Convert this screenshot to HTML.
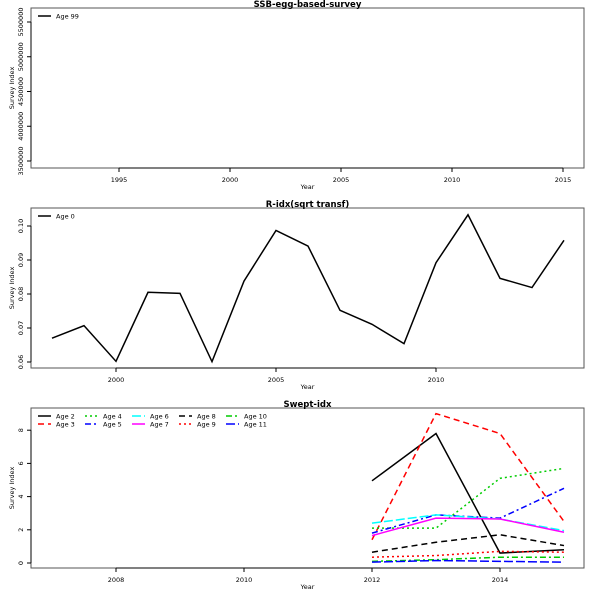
<!DOCTYPE html>
<html><head><meta charset="utf-8"><style>
body{margin:0;background:#fff;}
svg{font-family:"DejaVu Sans","Liberation Sans",sans-serif;}
</style></head><body>
<svg id="chart" width="600" height="600" viewBox="0 0 600 600" xmlns="http://www.w3.org/2000/svg"></svg>
<script>
// Panel 1 data
const p1Years=[];
const p1Values=[];
const p1XTicks=[1995,2000,2005,2010,2015];
const p1YTicks=[3500000,4000000,4500000,5000000,5500000];
// Panel 2 data
const p2Years=[1998,1999,2000,2001,2002,2003,2004,2005,2006,2007,2008,2009,2010,2011,2012,2013,2014];
const p2Values=[0.067,0.0707,0.0602,0.0805,0.0802,0.0601,0.0838,0.0987,0.0941,0.0752,0.0711,0.0654,0.0892,0.1033,0.0846,0.0819,0.0958];
const p2XTicks=[2000,2005,2010];
const p2YTicks=[0.06,0.07,0.08,0.09,0.10];
const p2YLabels=["0.06","0.07","0.08","0.09","0.10"];
// Panel 3 data
const p3Years=[2012,2013,2014,2015];
const p3Ages=["Age 2","Age 3","Age 4","Age 5","Age 6","Age 7","Age 8","Age 9","Age 10","Age 11"];
const age2=[4.95,7.8,0.6,0.8];
const age3=[1.4,9.0,7.8,2.5];
const age4=[2.1,2.1,5.1,5.7];
const age5=[1.8,2.9,2.7,4.5];
const age6=[2.4,2.9,2.65,1.95];
const age7=[1.65,2.7,2.65,1.85];
const age8=[0.65,1.25,1.7,1.05];
const age9=[0.35,0.45,0.7,0.65];
const age10=[0.1,0.2,0.35,0.35];
const age11=[0.05,0.15,0.1,0.05];
const p3XTicks=[2008,2010,2012,2014];
const p3YTicks=[0,2,4,6,8];

const NS="http://www.w3.org/2000/svg";
const svg=document.getElementById('chart');
function mk(tag,attrs,parent){const e=document.createElementNS(NS,tag);for(const k in attrs)e.setAttribute(k,attrs[k]);(parent||svg).appendChild(e);return e;}
function txt(x,y,s,size,anchor,parent,extra){const t=mk('text',Object.assign({x:x,y:y,'font-size':size,'text-anchor':anchor||'middle',fill:'#000'},extra||{}),parent);t.textContent=s;return t;}
const colors=['#000','#f00','#0c0','#00f','#0ff','#f0f','#000','#f00','#0c0','#00f'];
const dashes=['none','6,4','2,3','6,3,2,3','9,3','none','6,4','2,3','6,3,2,3','9,3'];

function panel(name,box,xsc,ysc,xt,xtl,yt,ytl,title){
  const g=mk('g',{});
  
  
  const r=mk('rect',{x:box.x0,y:box.y0,width:box.x1-box.x0,height:box.y1-box.y0,fill:'none',stroke:'#555','stroke-width':1},g);
  
  
  const t=txt((box.x0+box.x1)/2,box.y0-1,title,8.5,'middle',g,{'font-weight':'bold'});
  
  
  const xa=mk('g',{},g);
  
  
  mk('line',{x1:xsc(xt[0]),x2:xsc(xt[xt.length-1]),y1:box.y1,y2:box.y1,stroke:'#000'},xa);
  xt.forEach((v,i)=>{const x=xsc(v);mk('line',{x1:x,x2:x,y1:box.y1,y2:box.y1+4,stroke:'#000'},xa);
    const l=txt(x,box.y1+14,xtl[i],6.5,'middle',xa);
    
    });
  const yl=txt((box.x0+box.x1)/2,box.y1+21,'Year',6.5,'middle',g);
  
  
  const ya=mk('g',{},g);
  
  
  mk('line',{x1:box.x0,x2:box.x0,y1:ysc(yt[0]),y2:ysc(yt[yt.length-1]),stroke:'#000'},ya);
  yt.forEach((v,i)=>{const y=ysc(v);mk('line',{x1:box.x0-4,x2:box.x0,y1:y,y2:y,stroke:'#000'},ya);
    const l=txt(box.x0-8,y,ytl[i],6.5,'middle',ya,{transform:`rotate(-90 ${box.x0-8} ${y})`});
    
    });
  const cy=(box.y0+box.y1)/2;
  const yt2=txt(14,cy,'Survey Index',6.5,'middle',g,{transform:`rotate(-90 14 ${cy})`});
  
  
  return g;
}
function series(g,xs,ys,xsc,ysc,color,dash,name){
  if(!xs.length)return;
  const p=mk('polyline',{points:xs.map((x,i)=>xsc(x)+','+ysc(ys[i])).join(' '),fill:'none',stroke:color,'stroke-width':1.5,'stroke-dasharray':dash},g);
  
  
}
function legendEntry(g,x,y,color,dash,label){
  const e=mk('g',{},g);
  
  
  mk('line',{x1:x,x2:x+13,y1:y,y2:y,stroke:color,'stroke-width':1.5,'stroke-dasharray':dash},e);
  txt(x+18,y+2.5,label,6.5,'start',e);
}

const b1={x0:31,x1:584,y0:8,y1:168};
const x1s=v=>119+(v-1995)*(230-119)/5;
const y1s=v=>161-(v-3500000)*(161-22)/2000000;
const g1=panel('ssb-egg-panel',b1,x1s,y1s,p1XTicks,p1XTicks.map(String),p1YTicks,p1YTicks.map(String),'SSB-egg-based-survey');
series(g1,p1Years,p1Values,x1s,y1s,'#000','none','age-99-line');
legendEntry(g1,38,16,'#000','none','Age 99');

const b2={x0:31,x1:584,y0:208,y1:368};
const x2s=v=>116+(v-2000)*32;
const y2s=v=>362-(v-0.06)*3400;
const g2=panel('r-idx-panel',b2,x2s,y2s,p2XTicks,p2XTicks.map(String),p2YTicks,p2YLabels,'R-idx(sqrt transf)');
series(g2,p2Years,p2Values,x2s,y2s,'#000','none','age-0-line');
legendEntry(g2,38,216,'#000','none','Age 0');

const b3={x0:31,x1:584,y0:408,y1:568};
const x3s=v=>116+(v-2008)*64;
const y3s=v=>563-v*16.6;
const g3=panel('swept-idx-panel',b3,x3s,y3s,p3XTicks,p3XTicks.map(String),p3YTicks,p3YTicks.map(String),'Swept-idx');
const p3Series=[age2,age3,age4,age5,age6,age7,age8,age9,age10,age11];
p3Series.forEach((s,i)=>series(g3,p3Years,s,x3s,y3s,colors[i],dashes[i],'age-'+(i+2)+'-line'));
p3Ages.forEach((a,i)=>{const col=Math.floor(i/2),row=i%2;legendEntry(g3,38+col*47,416+row*8,colors[i],dashes[i],a);});
</script>
</body></html>
